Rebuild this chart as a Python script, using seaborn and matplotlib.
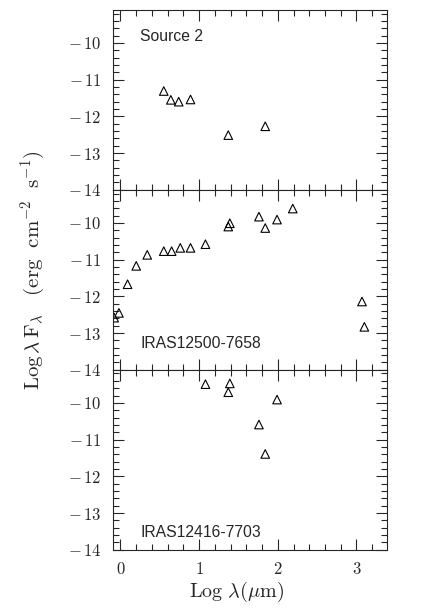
import matplotlib
matplotlib.use("Agg")
import matplotlib.pyplot as plt
import pandas as pd
import seaborn as sns
from matplotlib.ticker import MultipleLocator, FuncFormatter

# Source 2
src2_loglam = [0.55, 0.64, 0.74, 0.89, 1.37, 1.84]
src2_logflux = [-11.31, -11.55, -11.60, -11.54, -12.51, -12.27]

# IRAS12500-7658
iras1_loglam = [-0.08, -0.02, 0.09, 0.20, 0.34, 0.55, 0.65, 0.76, 0.89, 1.08,
                1.37, 1.39, 1.76, 1.84, 1.99, 2.19, 3.07, 3.10]
iras1_logflux = [-12.58, -12.45, -11.67, -11.17, -10.87, -10.77, -10.77, -10.68, -10.68, -10.58,
                 -10.10, -10.01, -9.83, -10.14, -9.91, -9.61, -12.14, -12.83]

# IRAS12416-7703
iras2_loglam = [1.08, 1.39, 1.37, 1.99, 1.76, 1.84]
iras2_logflux = [-9.49, -9.47, -9.71, -9.91, -10.59, -11.39]

panel_names = ["Source 2", "IRAS12500-7658", "IRAS12416-7703"]
panel_label_y = [0.85, 0.145, 0.095]


def tick_fmt(v, pos):
    if v < 0:
        return rf"$-\,{abs(v):g}$"
    return rf"${v:g}$"


def main():
    sns.set_style("ticks")
    plt.rcParams["mathtext.fontset"] = "cm"
    plt.rcParams["font.family"] = ["Liberation Sans", "DejaVu Sans"]

    panels = [
        pd.DataFrame({"x": src2_loglam, "y": src2_logflux}),
        pd.DataFrame({"x": iras1_loglam, "y": iras1_logflux}),
        pd.DataFrame({"x": iras2_loglam, "y": iras2_logflux}),
    ]

    fig, axes = plt.subplots(3, 1, figsize=(4.25, 6.15), dpi=100, sharex=True)
    fig.subplots_adjust(left=0.265, right=0.911, bottom=0.106, top=0.984, hspace=0)

    fmt = FuncFormatter(tick_fmt)
    for ax, df, name, ly in zip(axes, panels, panel_names, panel_label_y):
        sns.scatterplot(data=df, x="x", y="y", marker="^", s=38, ax=ax,
                        edgecolor="black", linewidth=0.8, legend=False)
        for coll in ax.collections:
            coll.set_facecolor("none")
            coll.set_edgecolor("black")
        ax.set_xlim(-0.1, 3.39)
        ax.set_ylim(-14, -9.1)
        ax.xaxis.set_major_locator(MultipleLocator(1))
        ax.xaxis.set_minor_locator(MultipleLocator(0.2))
        ax.yaxis.set_major_locator(MultipleLocator(1))
        ax.yaxis.set_minor_locator(MultipleLocator(0.2))
        ax.yaxis.set_major_formatter(fmt)
        ax.xaxis.set_major_formatter(fmt)
        ax.tick_params(which="both", direction="in", top=True, right=True, width=0.8,
                       labelsize=12)
        ax.tick_params(which="major", length=8, pad=8)
        ax.tick_params(which="minor", length=4)
        for sp in ax.spines.values():
            sp.set_linewidth(0.8)
        ax.set_xlabel("")
        ax.set_ylabel("")
        ax.text(0.1, ly, name, transform=ax.transAxes, fontsize=11.3, va="center")

    fig.text(33 / 425, 1 - 270 / 615,
             r"$\mathrm{Log}\,\lambda\,\mathrm{F}_{\lambda}\ \ \ (\mathrm{erg\ \ cm^{-2}\ \ s^{-1}})$",
             rotation=90, ha="center", va="center", fontsize=15)
    fig.text(236 / 425, 1 - 592 / 615, r"$\mathrm{Log}\ \lambda(\mu\mathrm{m})$",
             ha="center", va="center", fontsize=14.5)

    fig.savefig("out.png", dpi=100)
    plt.close(fig)


if __name__ == "__main__":
    main()
